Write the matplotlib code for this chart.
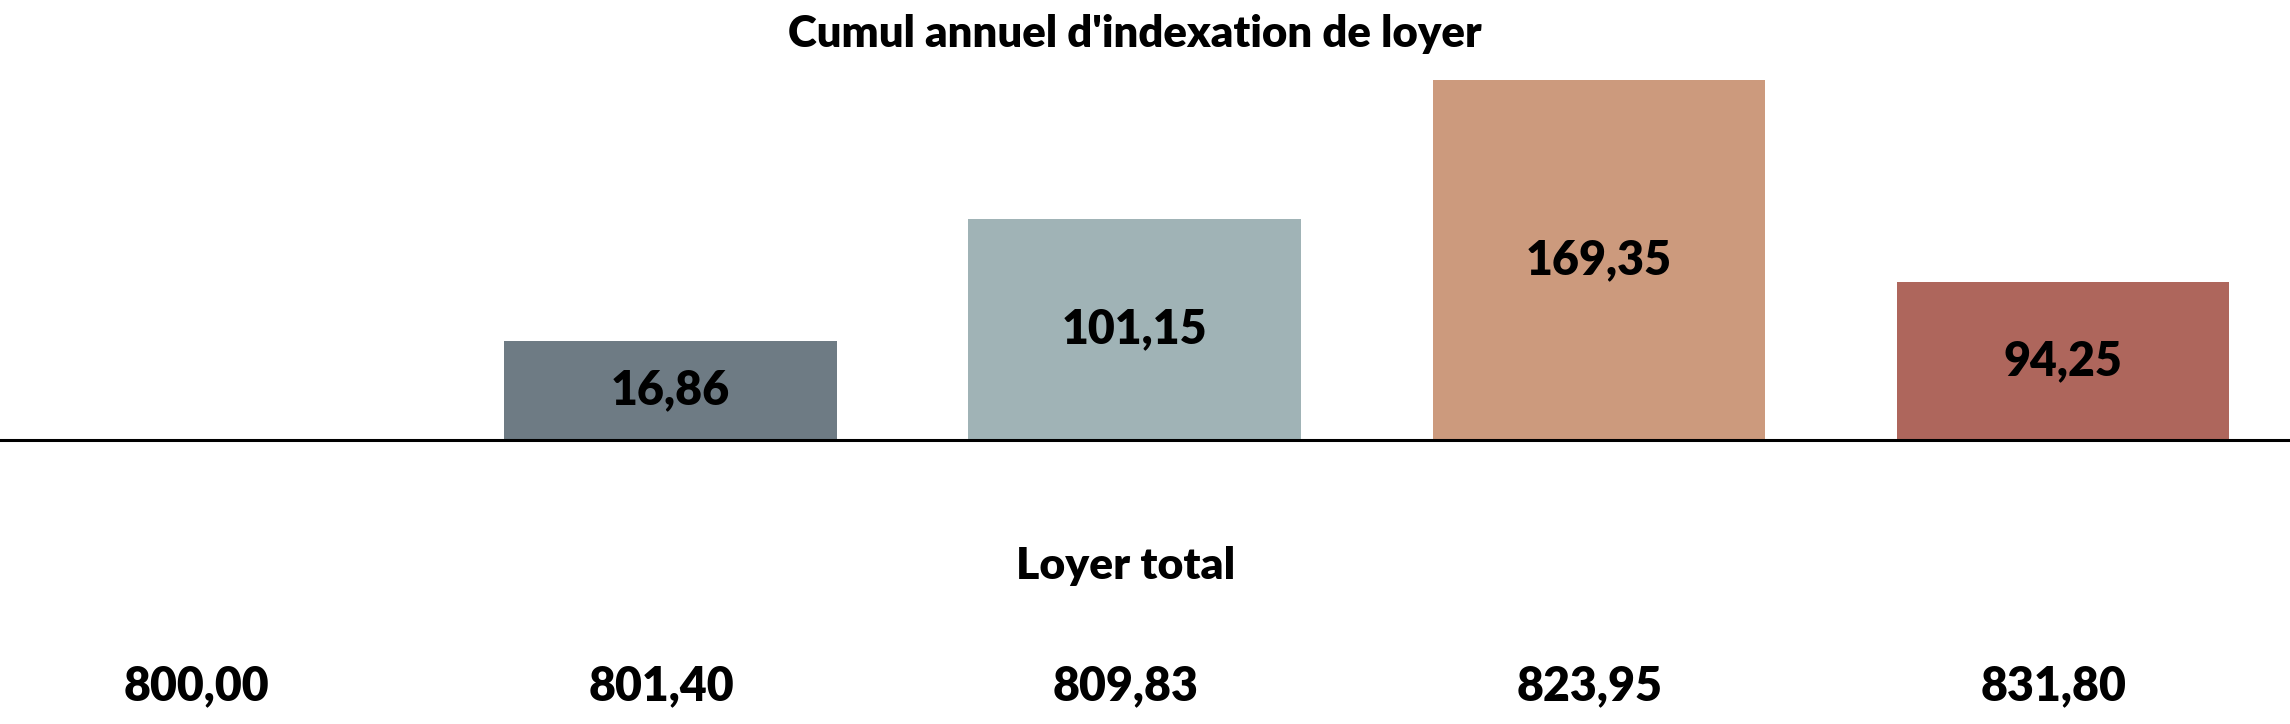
import matplotlib
matplotlib.use("Agg")
import matplotlib.pyplot as plt

# data
categories = ["800,00", "801,40", "809,83", "823,95", "831,80"]   # loyer total
bar_labels = ["", "16,86", "101,15", "169,35", "94,25"]            # cumul annuel
bar_heights = [0, 99, 221, 360, 158]                               # heights as drawn
bar_colors = ["#ffffff", "#6e7b84", "#a0b3b6", "#cc9a7d", "#ae665c"]

plt.rcParams['font.family'] = ['Lato', 'DejaVu Sans']

fig = plt.figure(figsize=(22.9, 7.24), dpi=100)
ax = fig.add_axes([0, 0, 1, 1])

x = list(range(len(categories)))
ax.bar(x, bar_heights, width=0.716, color=bar_colors, zorder=2)

# values inside bars
for xi, h, lab in zip(x, bar_heights, bar_labels):
    if lab:
        ax.text(xi, h / 2, lab, ha='center', va='center',
                fontsize=33.5, fontweight='heavy', color='black', zorder=3)

# baseline
ax.axhline(0, color='black', linewidth=2.2, zorder=4)

# titles
ax.text(2, 406, "Cumul annuel d'indexation de loyer", ha='center', va='center',
        fontsize=31.5, fontweight='heavy')
ax.text(1.98, -126, "Loyer total", ha='center', va='center',
        fontsize=32, fontweight='heavy')

# total rent row
for xi, lab in zip(x, categories):
    ax.text(xi - 0.02, -246, lab, ha='center', va='center',
            fontsize=33.5, fontweight='heavy')

ax.set_xlim(-0.444, 4.489)
ax.set_ylim(-284, 440)
ax.axis('off')

fig.savefig("out.png", dpi=100, facecolor='white')
